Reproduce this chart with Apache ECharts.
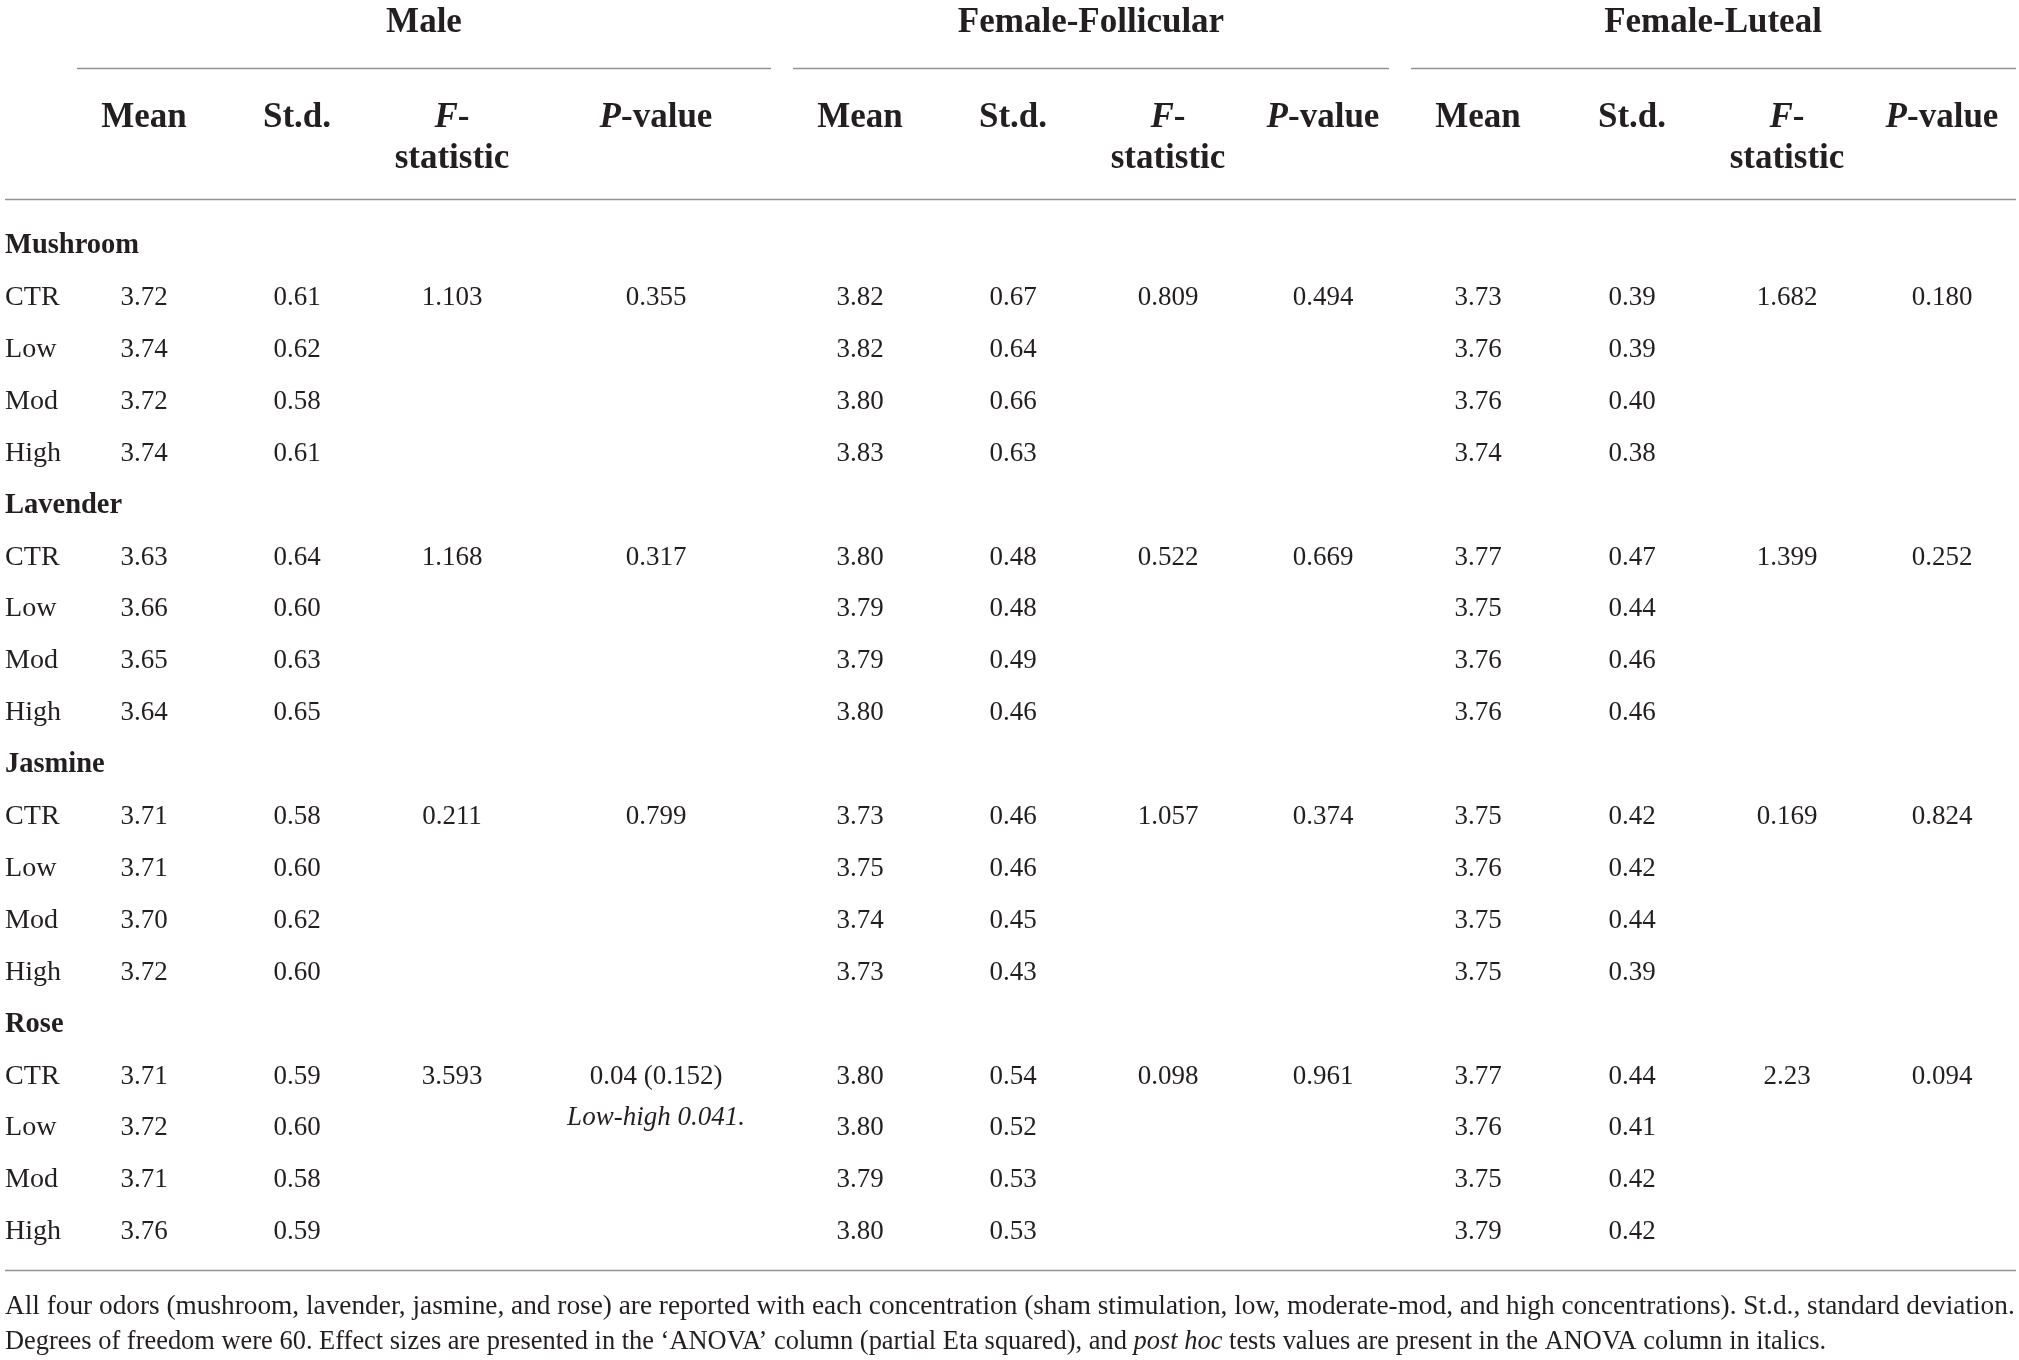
<!DOCTYPE html>
<html>
<head>
<meta charset="utf-8">
<script src="https://cdn.jsdelivr.net/npm/echarts@6/dist/echarts.min.js"></script>
<style>
  html, body { margin: 0; padding: 0; background: #fff; }
  #chart { width: 2019px; height: 1360px; }
</style>
</head>
<body>
<div id="chart"></div>
<script>
var groups = ['Male', 'Female-Follicular', 'Female-Luteal'];
var odors = ['Mushroom', 'Lavender', 'Jasmine', 'Rose'];
var levels = ['CTR', 'Low', 'Mod', 'High'];

var maleMean = [[3.72, 3.74, 3.72, 3.74], [3.63, 3.66, 3.65, 3.64], [3.71, 3.71, 3.70, 3.72], [3.71, 3.72, 3.71, 3.76]];
var maleStd  = [[0.61, 0.62, 0.58, 0.61], [0.64, 0.60, 0.63, 0.65], [0.58, 0.60, 0.62, 0.60], [0.59, 0.60, 0.58, 0.59]];
var maleF    = ['1.103', '1.168', '0.211', '3.593'];
var maleP    = ['0.355', '0.317', '0.799', '0.04 (0.152)'];
var malePostHoc = ['', '', '', 'Low-high 0.041.'];

var follMean = [[3.82, 3.82, 3.80, 3.83], [3.80, 3.79, 3.79, 3.80], [3.73, 3.75, 3.74, 3.73], [3.80, 3.80, 3.79, 3.80]];
var follStd  = [[0.67, 0.64, 0.66, 0.63], [0.48, 0.48, 0.49, 0.46], [0.46, 0.46, 0.45, 0.43], [0.54, 0.52, 0.53, 0.53]];
var follF    = ['0.809', '0.522', '1.057', '0.098'];
var follP    = ['0.494', '0.669', '0.374', '0.961'];

var lutMean = [[3.73, 3.76, 3.76, 3.74], [3.77, 3.75, 3.76, 3.76], [3.75, 3.76, 3.75, 3.75], [3.77, 3.76, 3.75, 3.79]];
var lutStd  = [[0.39, 0.39, 0.40, 0.38], [0.47, 0.44, 0.46, 0.46], [0.42, 0.42, 0.44, 0.39], [0.44, 0.41, 0.42, 0.42]];
var lutF    = ['1.682', '1.399', '0.169', '2.23'];
var lutP    = ['0.180', '0.252', '0.824', '0.094'];

var footnote1 = 'All four odors (mushroom, lavender, jasmine, and rose) are reported with each concentration (sham stimulation, low, moderate-mod, and high concentrations). St.d., standard deviation.';
var footnote2 = 'Degrees of freedom were 60. Effect sizes are presented in the \u2018ANOVA\u2019 column (partial Eta squared), and {i|post hoc} tests values are present in the ANOVA column in italics.';

// ---- layout (x in px, y in row units) ----
var FONT = 'Liberation Serif';
var INK = '#231f20';
var RULE = '#939393';
var labelX = 5;
var colX = [[144, 297, 452, 656], [860, 1013, 1168, 1323], [1478, 1632, 1787, 1942]];
var groupX = [424, 1091, 1713];
var groupRule = [[77, 771], [793, 1389], [1411, 2016]];
var dy = 0.05; // nudge text down a little to sit like the original glyphs

var cells = [];
var rules = [];

function txt(x, y, text, o) {
    o = o || {};
    cells.push({
        x: x, y: y + dy, text: text,
        size: o.size || 27,
        weight: o.weight || 'normal',
        italic: !!o.italic,
        align: o.align || 'center',
        sx: o.sx || 1
    });
}

// header
groups.forEach(function (g, gi) {
    txt(groupX[gi], -4.29, g, {size: 35, weight: 'bold'});
    rules.push([groupRule[gi][0], -3.374, groupRule[gi][1]]);
    var cx = colX[gi];
    txt(cx[0], -2.47, 'Mean', {size: 35, weight: 'bold'});
    txt(cx[1], -2.47, 'St.d.', {size: 35, weight: 'bold'});
    txt(cx[2], -2.47, '{bi|F}-', {size: 35, weight: 'bold'});
    txt(cx[2], -1.68, 'statistic', {size: 35, weight: 'bold'});
    txt(cx[3], -2.47, '{bi|P}-value', {size: 35, weight: 'bold'});
});
rules.push([5, -0.850, 2016]);

// body
var blocks = [
    {mean: maleMean, std: maleStd, f: maleF, p: maleP},
    {mean: follMean, std: follStd, f: follF, p: follP},
    {mean: lutMean, std: lutStd, f: lutF, p: lutP}
];
odors.forEach(function (od, oi) {
    var r0 = oi * 5;
    txt(labelX, r0, od, {size: 28.5, weight: 'bold', align: 'left'});
    levels.forEach(function (lv, li) {
        var r = r0 + 1 + li;
        txt(labelX, r, lv, {align: 'left', sx: 1.04});
        blocks.forEach(function (b, bi) {
            txt(colX[bi][0], r, b.mean[oi][li].toFixed(2));
            txt(colX[bi][1], r, b.std[oi][li].toFixed(2));
            if (li === 0) {
                txt(colX[bi][2], r, b.f[oi]);
                txt(colX[bi][3], r, b.p[oi]);
            }
        });
    });
    if (malePostHoc[oi]) {
        txt(colX[0][3], r0 + 1.8, malePostHoc[oi], {italic: true});
    }
});
rules.push([5, 19.78, 2016]);

// footnote
txt(labelX, 20.44, footnote1, {size: 27, align: 'left', sx: 1.011});
txt(labelX, 21.12, footnote2, {size: 27, align: 'left', sx: 0.979});

function richFor(c) {
    var base = {fontFamily: FONT, fontSize: c.size, fontWeight: c.weight, fill: INK};
    return {
        i: Object.assign({}, base, {fontStyle: 'italic'}),
        bi: Object.assign({}, base, {fontStyle: 'italic', fontWeight: 'bold'})
    };
}

var chart = echarts.init(document.getElementById('chart'));
chart.setOption({
    backgroundColor: '#fff',
    animation: false,
    grid: {left: 0, right: 0, top: 0, bottom: 0},
    xAxis: {type: 'value', min: 0, max: 2019, show: false},
    yAxis: {type: 'value', inverse: true, min: -4.690, max: 21.514, show: false},
    series: [
        {
            type: 'custom',
            silent: true,
            clip: false,
            data: rules,
            renderItem: function (params, api) {
                var a = api.coord([api.value(0), api.value(1)]);
                var b = api.coord([api.value(2), api.value(1)]);
                return {
                    type: 'line',
                    shape: {x1: a[0], y1: Math.round(a[1]) + 0.5, x2: b[0], y2: Math.round(b[1]) + 0.5},
                    style: {stroke: RULE, lineWidth: 1.5}
                };
            }
        },
        {
            type: 'custom',
            silent: true,
            clip: false,
            data: cells.map(function (c) { return [c.x, c.y]; }),
            renderItem: function (params, api) {
                var c = cells[params.dataIndex];
                var p = api.coord([api.value(0), api.value(1)]);
                return {
                    type: 'text',
                    x: p[0],
                    y: p[1],
                    scaleX: c.sx,
                    style: {
                        text: c.text,
                        fontFamily: FONT,
                        fontSize: c.size,
                        fontWeight: c.weight,
                        fontStyle: c.italic ? 'italic' : 'normal',
                        fill: INK,
                        align: c.align,
                        verticalAlign: 'middle',
                        rich: richFor(c)
                    }
                };
            }
        }
    ]
});
</script>
</body>
</html>
